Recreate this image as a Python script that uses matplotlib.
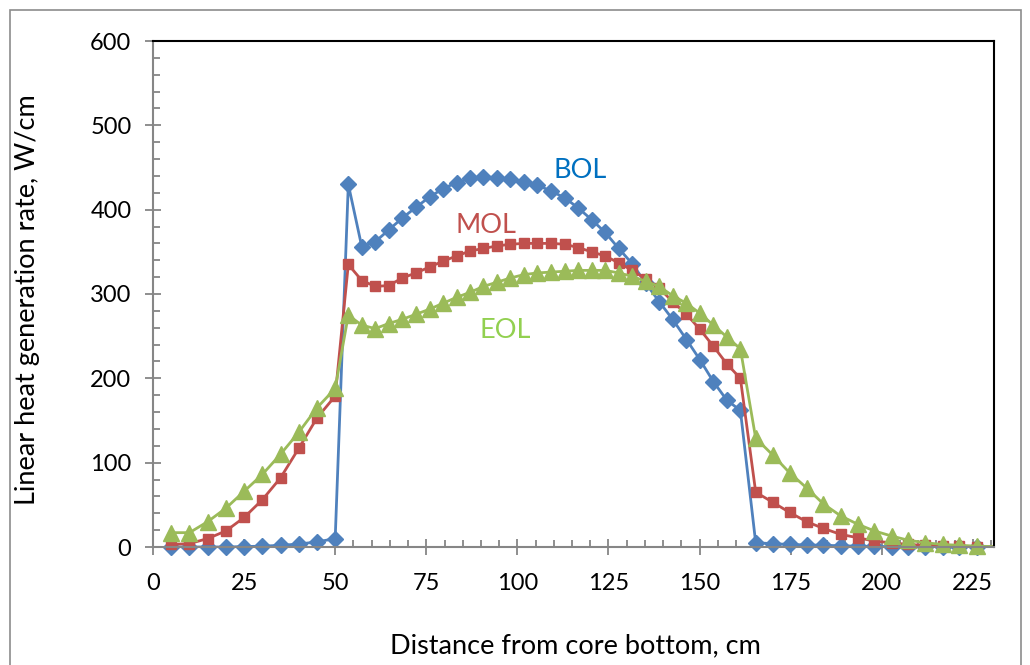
import numpy as np
import matplotlib.pyplot as plt
from matplotlib.patches import Rectangle
from matplotlib.ticker import MultipleLocator

plt.rcParams['font.family'] = ['Lato', 'DejaVu Sans']

# axial node positions, cm: lower reflector, fuel, upper reflector
x_lower = [5, 10, 15, 20, 25, 30, 35, 40, 45, 50]
x_core = [53.6, 57.3, 61.0, 64.7, 68.4, 72.2, 75.9, 79.6, 83.3, 87.0,
          90.7, 94.4, 98.1, 101.8, 105.5, 109.3, 113.0, 116.7, 120.4, 124.1,
          127.8, 131.5, 135.2, 138.9, 142.6, 146.4, 150.1, 153.8, 157.5, 161.2]
x_upper = [165.4, 170.1, 174.7, 179.4, 184.0, 188.7, 193.4, 198.0,
           202.7, 207.3, 212.0, 216.7, 221.3, 226.0, 230.9]

# linear heat generation rate, W/cm
bol_lower = [0, 0, 0, 0, 0.5, 1, 2, 3.5, 6, 10]
bol_core = [430, 356, 362, 376, 390, 403, 415, 425, 432, 437,
            439, 438, 436, 433, 429, 422, 414, 402, 388, 373,
            354, 336, 313, 291, 270, 246, 222, 196, 174, 162]
bol_upper = [5, 4, 3, 2.5, 2, 1.5, 1, 0.7, 0.5, 0.3, 0.2, 0.1, 0.1, 0, 0]

mol_lower = [3, 4, 10, 19, 35, 56, 82, 117, 153, 179]
mol_core = [335, 316, 309, 310, 319, 325, 332, 339, 345, 351,
            354, 357, 359, 360, 360, 360, 359, 355, 350, 345,
            337, 328, 318, 307, 291, 276, 258, 238, 217, 200]
mol_upper = [65, 53, 41, 30, 22, 15, 11, 7, 5, 3, 2, 1.5, 1, 0.5, 0.3]

eol_lower = [17, 17, 30, 46, 66, 86, 110, 136, 165, 188]
eol_core = [275, 263, 259, 265, 270, 276, 282, 289, 296, 302,
            309, 314, 319, 323, 325, 326, 327, 328, 328, 328,
            325, 321, 315, 309, 298, 289, 277, 263, 249, 235]
eol_upper = [129, 109, 88, 70, 51, 37, 27, 19, 13, 8, 5, 3, 2, 1, 0.5]

x = np.array(x_lower + x_core + x_upper)
x_max = 230.8
series = [
    ('BOL', bol_lower + bol_core + bol_upper, '#4F81BD', 'D', 8.2, '#0070C0', (117.2, 447)),
    ('MOL', mol_lower + mol_core + mol_upper, '#C0504D', 's', 6.9, '#C0504D', (91.4, 381)),
    ('EOL', eol_lower + eol_core + eol_upper, '#9BBB59', '^', 11, '#92D050', (96.7, 257)),
]

fig = plt.figure(figsize=(10.3, 6.65), dpi=100)
fig.patches.append(Rectangle((10 / 1030, -0.1), 1011 / 1030, 1.1 - 10 / 665,
                             transform=fig.transFigure, fill=False,
                             edgecolor='#8C8C8C', linewidth=1.2))

ax = fig.add_axes([153 / 1030, 118 / 665, 841 / 1030, 506 / 665])

shown = x <= x_max
for name, y, color, marker, ms, text_color, text_pos in series:
    y = np.array(y)
    ax.plot(x, y, color=color, linewidth=2.0)
    # markers sit on top of the axis line, so they are not clipped
    ax.plot(x[shown], y[shown], linestyle='none', marker=marker, markersize=ms,
            markerfacecolor=color, markeredgecolor=color, clip_on=False)
    ax.text(text_pos[0], text_pos[1], name, color=text_color, fontsize=19.5,
            ha='center', va='center')

ax.set_xlim(0, x_max)
ax.set_ylim(0, 600)
ax.xaxis.set_major_locator(MultipleLocator(25))
ax.xaxis.set_minor_locator(MultipleLocator(5))
ax.yaxis.set_major_locator(MultipleLocator(100))
ax.yaxis.set_minor_locator(MultipleLocator(20))

ax.tick_params(which='major', direction='inout', length=11, width=1.3,
               color='#868686', labelsize=17, pad=10)
ax.tick_params(which='minor', direction='in', length=5, width=1.3, color='#868686')
ax.tick_params(axis='x', which='major', pad=13)

for side in ['left', 'bottom']:
    ax.spines[side].set_color('#868686')
    ax.spines[side].set_linewidth(1.5)
for side in ['top', 'right']:
    ax.spines[side].set_color('black')
    ax.spines[side].set_linewidth(1.5)

fig.text(575 / 1030, 1 - 646 / 665, 'Distance from core bottom, cm',
         fontsize=19.5, ha='center', va='center')
fig.text(28 / 1030, 1 - 300 / 665, 'Linear heat generation rate, W/cm',
         fontsize=19.5, ha='center', va='center', rotation=90)

fig.savefig('out.png', dpi=100)
